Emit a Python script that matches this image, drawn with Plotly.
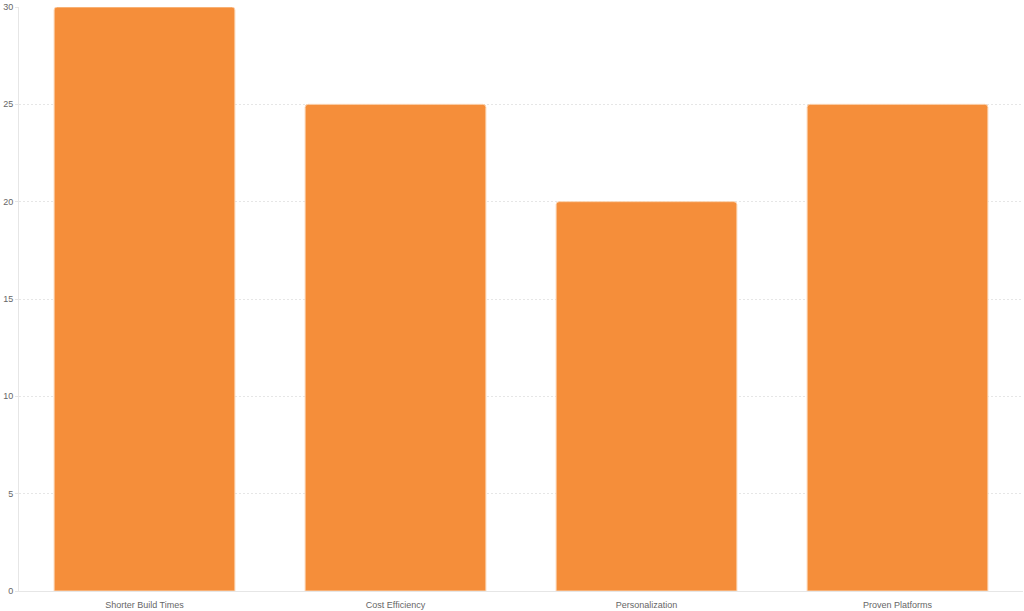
import plotly.graph_objects as go

# Chart data
categories = ["Shorter Build Times", "Cost Efficiency", "Personalization", "Proven Platforms"]
values = [30, 25, 20, 25]
y_ticks = [0, 5, 10, 15, 20, 25, 30]

bar_color = "#F58E3A"
grid_color = "#E6E6E6"
text_color = "#666666"

fig = go.Figure()

fig.add_trace(go.Bar(
    x=categories,
    y=values,
    marker=dict(color=bar_color, line=dict(color="#FBD3B0", width=1), cornerradius=3),
    hoverinfo="x+y",
))

fig.update_layout(
    width=1024,
    height=611,
    margin=dict(l=19, r=1, t=7, b=20),
    paper_bgcolor="white",
    plot_bgcolor="white",
    bargap=0.28,
    showlegend=False,
    font=dict(family="Liberation Sans, Arial, sans-serif", size=9, color=text_color),
)

fig.update_xaxes(
    automargin=False,
    showline=True,
    linecolor=grid_color,
    linewidth=1,
    showgrid=False,
    ticks="",
    ticklabelstandoff=5,
    tickfont=dict(size=9, color=text_color),
)

fig.update_yaxes(
    automargin=False,
    range=[0, 30],
    tickvals=y_ticks,
    showline=True,
    linecolor=grid_color,
    linewidth=1,
    showgrid=True,
    gridcolor=grid_color,
    griddash="2px,2px",
    gridwidth=1,
    zeroline=False,
    ticks="outside",
    ticklen=3,
    tickcolor=grid_color,
    tickfont=dict(size=9, color=text_color),
)

# page body has a default margin; drop it so the chart fills the window
fig.write_html(
    "out.html",
    config={"displayModeBar": False},
    post_script="document.body.style.margin='0';",
)
